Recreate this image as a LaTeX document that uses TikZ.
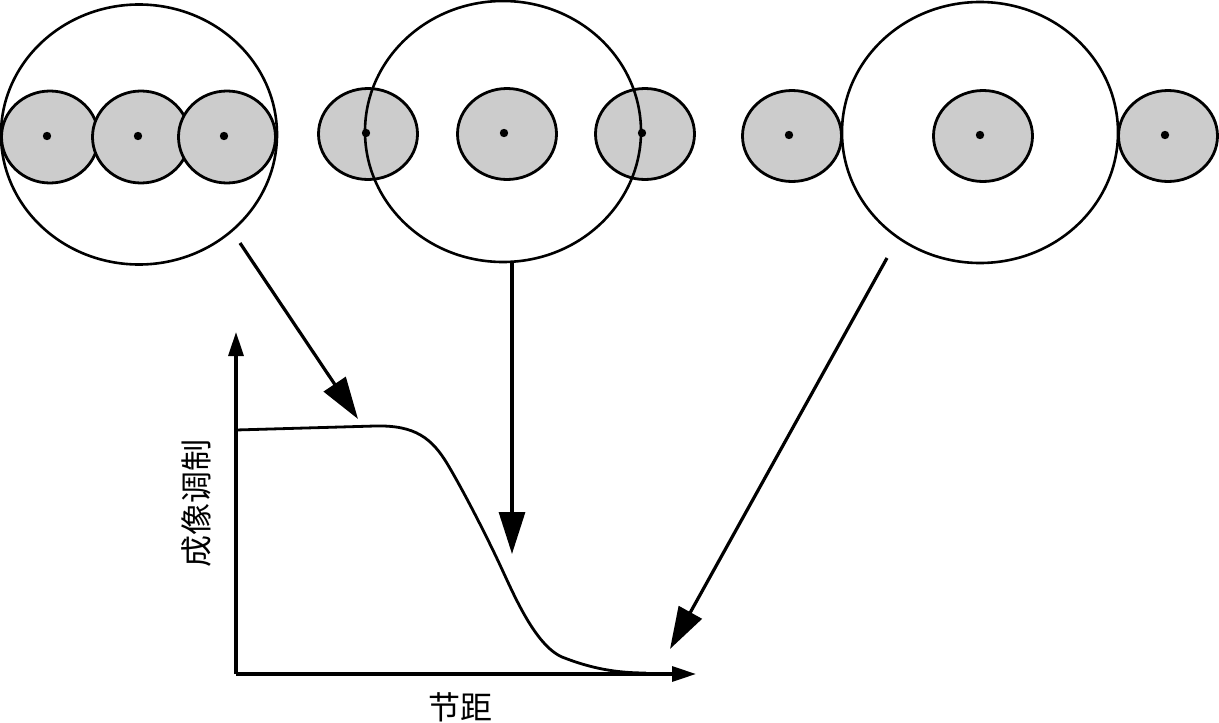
\documentclass[tikz,border=0pt]{standalone}
\usepackage{fontspec}
\newfontfamily\cjk{Noto Sans CJK SC}
\usetikzlibrary{arrows.meta}
\begin{document}
\begin{tikzpicture}[x=1pt,y=-1pt,
  gray disc/.style={draw=black,line width=2.8pt,fill=black!20},
  big ring/.style={draw=black,line width=2.6pt},
  pt/.style={fill=black},
  bigarrow/.style={line width=3.2pt,-{Triangle[length=42pt,width=26pt]}},
  axisarrow/.style={line width=3.2pt,-{Triangle[length=24pt,width=15pt]}},
  lbl/.style={font=\cjk\fontsize{32pt}{32pt}\selectfont,inner sep=0pt}]
\useasboundingbox (0,0) rectangle (1219,723);
% panel 1
\foreach \cx in {50,141,227}{\draw[gray disc] (\cx,137) ellipse [x radius=48.5,y radius=46];}
\foreach \dx in {47,138,224}{\fill[pt] (\dx,136) circle (4.2);}
\draw[big ring] (139,134.5) ellipse [x radius=138,y radius=130];
% panel 2
\foreach \cx in {368,507,645}{\draw[gray disc] (\cx,134) ellipse [x radius=49.5,y radius=45.5];}
\foreach \dx in {366,504,642}{\fill[pt] (\dx,133) circle (4.2);}
\draw[big ring] (503,131.5) ellipse [x radius=138,y radius=130.5];
% panel 3
\foreach \cx in {792,983,1168}{\draw[gray disc] (\cx,136) ellipse [x radius=49.5,y radius=45.5];}
\foreach \dx in {789,980,1165}{\fill[pt] (\dx,135) circle (4.2);}
\draw[big ring] (980,132.5) ellipse [x radius=138,y radius=130.5];
% axes
\coordinate (O) at (236,674);
\coordinate (ytip) at (236,332);
\coordinate (xtip) at (696,674);
\draw[axisarrow] (O) -- (ytip);
\draw[axisarrow] (O) -- (xtip);
% curve
\coordinate (c0) at (236,430);
\coordinate (c1) at (375,426);
\coordinate (c2) at (500,565);
\coordinate (c3) at (646,673);
\draw[line width=2.8pt,line join=round] (c0) -- (c1)
  .. controls (415,425) and (432,438) .. (448,465)
  .. controls (464,492) and (486,535) .. (c2)
  .. controls (514,595) and (535,645) .. (562,657)
  .. controls (590,668) and (615,673) .. (c3);
% arrows
\coordinate (a1s) at (240,243);
\coordinate (a1e) at (358,419);
\coordinate (a2s) at (512,262);
\coordinate (a2e) at (512,554);
\coordinate (a3s) at (887,258);
\coordinate (a3e) at (670,649);
\draw[bigarrow] (a1s) -- (a1e);
\draw[bigarrow] (a2s) -- (a2e);
\draw[bigarrow] (a3s) -- (a3e);
% labels
\node[lbl,rotate=90] (ylab) at (196,503) {成像调制};
\node[lbl] (xlab) at (460,707) {节距};
\end{tikzpicture}
\end{document}
